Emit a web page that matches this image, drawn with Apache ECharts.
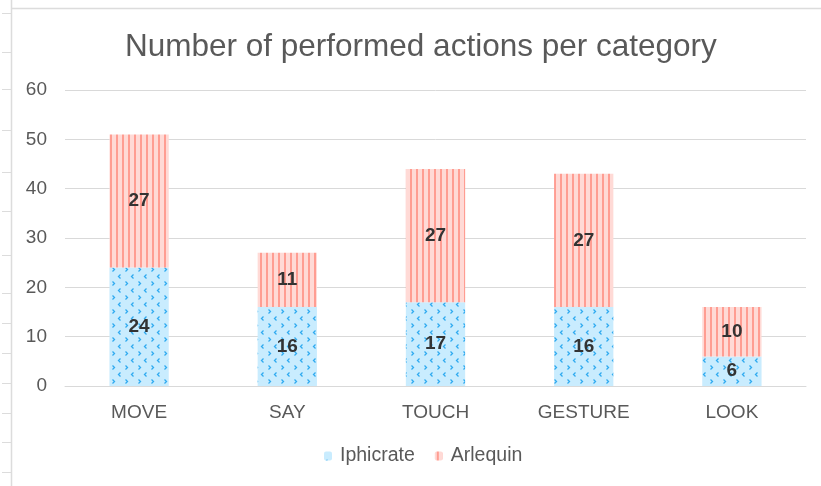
<!DOCTYPE html>
<html>
<head>
<meta charset="utf-8">
<script src="https://cdn.jsdelivr.net/npm/echarts@6/dist/echarts.min.js"></script>
<style>
  html, body { margin: 0; padding: 0; background: #fff; }
  #chart { width: 821px; height: 486px; }
</style>
</head>
<body>
<div id="chart"></div>
<script>
// actions per category, stacked
const categories = ['MOVE', 'SAY', 'TOUCH', 'GESTURE', 'LOOK']
const iphicrate = [24, 16, 17, 16, 6]
const arlequin = [27, 11, 27, 27, 10]
const yTicks = { min: 0, max: 60, interval: 10 }

const FONT = '"Liberation Sans", Arial, Helvetica, sans-serif'

// little vertical stripes for Arlequin
function stripePattern() {
  const c = document.createElement('canvas')
  c.width = 6
  c.height = 6
  const ctx = c.getContext('2d')
  ctx.fillStyle = '#ffdad6'
  ctx.fillRect(0, 0, 6, 6)
  ctx.fillStyle = '#ff9d92'
  ctx.fillRect(2, 0, 2, 6)
  return { image: c, repeat: 'repeat' }
}

// light blue with small chevrons for Iphicrate
function chevronPattern() {
  const c = document.createElement('canvas')
  c.width = 13
  c.height = 14
  const ctx = c.getContext('2d')
  ctx.fillStyle = '#c9ecfe'
  ctx.fillRect(0, 0, 13, 14)
  ctx.strokeStyle = '#2faaf0'
  ctx.lineWidth = 1.3
  ctx.beginPath()
  // ">"
  ctx.moveTo(8.5, 1.5); ctx.lineTo(10.5, 3.5); ctx.lineTo(8.5, 5.5)
  // "<"
  ctx.moveTo(3.5, 8.5); ctx.lineTo(1.5, 10.5); ctx.lineTo(3.5, 12.5)
  ctx.stroke()
  return { image: c, repeat: 'repeat' }
}

const chart = echarts.init(document.getElementById('chart'), null, { renderer: 'canvas' })

const frameColor = '#dcdcdc'
const sideTicks = [13, 52, 89, 130, 172, 211, 255, 293, 323, 353, 383, 413, 442, 472]
const graphic = [
  { type: 'line', shape: { x1: 11.5, y1: 0, x2: 11.5, y2: 486 }, style: { stroke: frameColor, lineWidth: 1.5 }, silent: true },
  { type: 'line', shape: { x1: 11.5, y1: 8.5, x2: 821, y2: 8.5 }, style: { stroke: frameColor, lineWidth: 1.5 }, silent: true }
]
sideTicks.forEach(y => {
  graphic.push({ type: 'line', shape: { x1: 2, y1: y + 0.5, x2: 11, y2: y + 0.5 }, style: { stroke: frameColor, lineWidth: 1 }, silent: true })
})

const labelStyle = {
  show: true,
  position: 'inside',
  color: '#333',
  fontFamily: FONT,
  fontWeight: 'bold',
  fontSize: 19
}

chart.setOption({
  backgroundColor: '#fff',
  animation: false,
  graphic: graphic,
  title: {
    text: 'Number of performed actions per category',
    left: 120,
    top: 26,
    textStyle: {
      fontFamily: FONT,
      fontSize: 31.5,
      fontWeight: 'normal',
      color: '#595959'
    }
  },
  legend: {
    bottom: 15,
    left: 319,
    itemWidth: 8,
    itemHeight: 9,
    itemGap: 20,
    textStyle: { fontFamily: FONT, fontSize: 19.5, color: '#595959', padding: [0, 0, 0, 3] },
    data: ['Iphicrate', 'Arlequin']
  },
  grid: {
    left: 65,
    right: 15,
    top: 90,
    bottom: 100
  },
  xAxis: {
    type: 'category',
    data: categories,
    axisLine: { lineStyle: { color: '#d9d9d9', width: 1 } },
    axisTick: { show: false },
    axisLabel: { fontFamily: FONT, fontSize: 19, color: '#595959', margin: 17 }
  },
  yAxis: {
    type: 'value',
    min: yTicks.min,
    max: yTicks.max,
    interval: yTicks.interval,
    axisLine: { show: false },
    axisTick: { show: false },
    axisLabel: { fontFamily: FONT, fontSize: 19, color: '#595959', margin: 18 },
    splitLine: { lineStyle: { color: '#d9d9d9', width: 1 } }
  },
  series: [{
    name: 'Iphicrate',
    type: 'bar',
    stack: 'total',
    barWidth: '40%',
    data: iphicrate,
    itemStyle: { color: chevronPattern() },
    label: labelStyle
  }, {
    name: 'Arlequin',
    type: 'bar',
    stack: 'total',
    barWidth: '40%',
    data: arlequin,
    itemStyle: { color: stripePattern() },
    label: labelStyle
  }]
})
</script>
</body>
</html>
